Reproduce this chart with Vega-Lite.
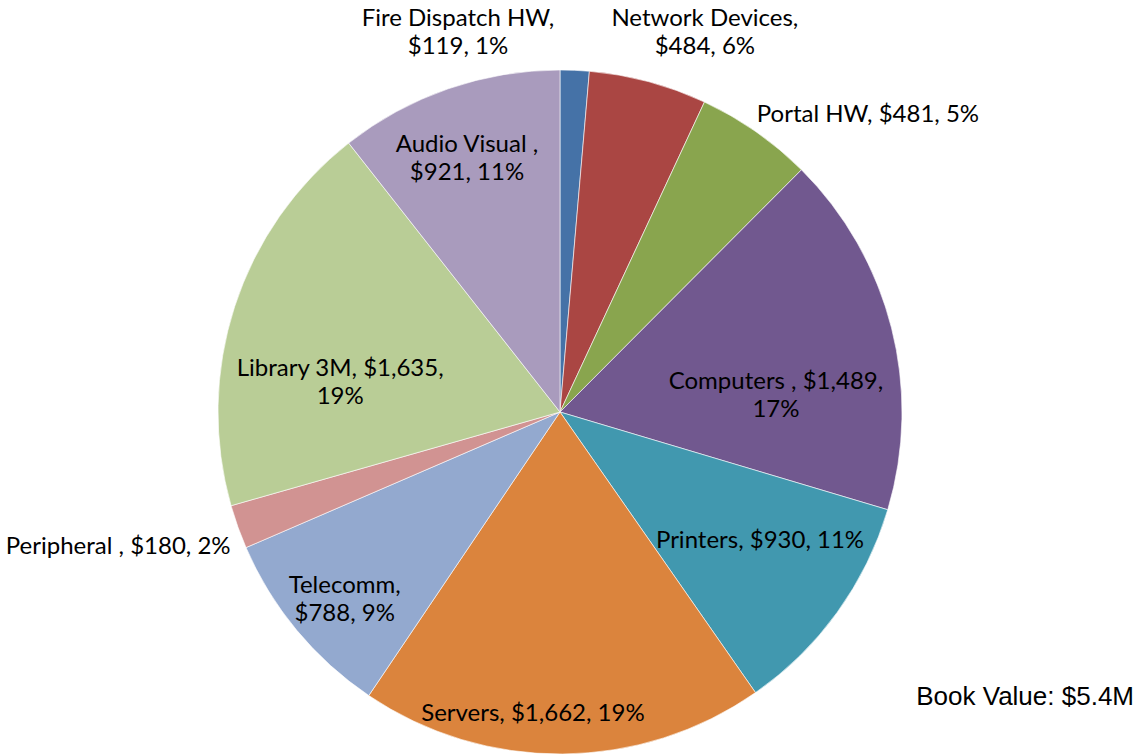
{
  "$schema": "https://vega.github.io/schema/vega-lite/v6.json",
  "width": 1120,
  "height": 686,
  "autosize": {"type": "none"},
  "padding": {"left": 0, "top": 69, "right": 17, "bottom": 0},
  "background": "white",
  "config": {"view": {"stroke": null}},
  "title": {"text": "Book Value: $5.4M", "orient": "bottom", "anchor": "end", "frame": "group", "offset": -50, "dx": 14, "baseline": "alphabetic", "font": "Liberation Sans", "fontSize": 26, "fontWeight": "normal", "color": "#000000"},
  "data": {"values": [
    {"idx": 1, "category": "Fire Dispatch HW", "value": 119, "label": "Fire Dispatch HW,\n$119, 1%"},
    {"idx": 2, "category": "Network Devices", "value": 484, "label": "Network Devices,\n$484, 6%"},
    {"idx": 3, "category": "Portal HW", "value": 481, "label": "Portal HW, $481, 5%"},
    {"idx": 4, "category": "Computers", "value": 1489, "label": "Computers , $1,489,\n17%"},
    {"idx": 5, "category": "Printers", "value": 930, "label": "Printers, $930, 11%"},
    {"idx": 6, "category": "Servers", "value": 1662, "label": "Servers, $1,662, 19%"},
    {"idx": 7, "category": "Telecomm", "value": 788, "label": "Telecomm,\n$788, 9%"},
    {"idx": 8, "category": "Peripheral", "value": 180, "label": "Peripheral , $180, 2%"},
    {"idx": 9, "category": "Library 3M", "value": 1635, "label": "Library 3M, $1,635,\n19%"},
    {"idx": 10, "category": "Audio Visual", "value": 921, "label": "Audio Visual ,\n$921, 11%"}
  ]},
  "transform": [
    {"stack": "value", "groupby": [], "sort": [{"field": "idx", "order": "ascending"}], "as": ["v0", "v1"]}
  ],
  "layer": [
    {
      "mark": {"type": "arc", "outerRadius": 342, "stroke": "#ffffff", "strokeWidth": 0.6},
      "encoding": {
        "theta": {"field": "v0", "type": "quantitative", "stack": null, "scale": {"domain": [0, 8689]}},
        "theta2": {"field": "v1"},
        "color": {"field": "category", "type": "nominal", "legend": null,
          "scale": {"domain": ["Fire Dispatch HW", "Network Devices", "Portal HW", "Computers", "Printers", "Servers", "Telecomm", "Peripheral", "Library 3M", "Audio Visual"],
                    "range": ["#4572A7", "#AA4643", "#89A54E", "#71588F", "#4198AF", "#DB843D", "#93A9CF", "#D19392", "#B9CD96", "#A99BBD"]}}
      }
    },
    {"transform": [{"filter": "datum.category === 'Fire Dispatch HW'"}],
     "mark": {"type": "text", "radius": 406, "thetaOffset": -0.254, "font": "Lato", "fontSize": 24, "lineBreak": "\n", "lineHeight": 28, "align": "center", "baseline": "middle", "color": "#000000"},
     "encoding": {"theta": {"field": "v0", "type": "quantitative", "stack": null}, "text": {"field": "label"}}},
    {"transform": [{"filter": "datum.category === 'Network Devices'"}],
     "mark": {"type": "text", "radius": 419, "thetaOffset": 0.267, "font": "Lato", "fontSize": 24, "lineBreak": "\n", "lineHeight": 28, "align": "center", "baseline": "middle", "color": "#000000"},
     "encoding": {"theta": {"field": "v0", "type": "quantitative", "stack": null}, "text": {"field": "label"}}},
    {"transform": [{"filter": "datum.category === 'Portal HW'"}],
     "mark": {"type": "text", "radius": 428, "thetaOffset": 0.367, "font": "Lato", "fontSize": 24, "lineBreak": "\n", "lineHeight": 28, "align": "center", "baseline": "middle", "color": "#000000"},
     "encoding": {"theta": {"field": "v0", "type": "quantitative", "stack": null}, "text": {"field": "label"}}},
    {"transform": [{"filter": "datum.category === 'Computers'"}],
     "mark": {"type": "text", "radius": 218, "thetaOffset": 0.649, "font": "Lato", "fontSize": 24, "lineBreak": "\n", "lineHeight": 28, "align": "center", "baseline": "middle", "color": "#000000"},
     "encoding": {"theta": {"field": "v0", "type": "quantitative", "stack": null}, "text": {"field": "label"}}},
    {"transform": [{"filter": "datum.category === 'Printers'"}],
     "mark": {"type": "text", "radius": 238, "thetaOffset": 0.283, "font": "Lato", "fontSize": 24, "lineBreak": "\n", "lineHeight": 28, "align": "center", "baseline": "middle", "color": "#000000"},
     "encoding": {"theta": {"field": "v0", "type": "quantitative", "stack": null}, "text": {"field": "label"}}},
    {"transform": [{"filter": "datum.category === 'Servers'"}],
     "mark": {"type": "text", "radius": 303, "thetaOffset": 0.698, "font": "Lato", "fontSize": 24, "lineBreak": "\n", "lineHeight": 28, "align": "center", "baseline": "middle", "color": "#000000"},
     "encoding": {"theta": {"field": "v0", "type": "quantitative", "stack": null}, "text": {"field": "label"}}},
    {"transform": [{"filter": "datum.category === 'Telecomm'"}],
     "mark": {"type": "text", "radius": 277, "thetaOffset": 0.297, "font": "Lato", "fontSize": 24, "lineBreak": "\n", "lineHeight": 28, "align": "center", "baseline": "middle", "color": "#000000"},
     "encoding": {"theta": {"field": "v0", "type": "quantitative", "stack": null}, "text": {"field": "label"}}},
    {"transform": [{"filter": "datum.category === 'Peripheral'"}],
     "mark": {"type": "text", "radius": 462, "thetaOffset": 0.111, "font": "Lato", "fontSize": 24, "lineBreak": "\n", "lineHeight": 28, "align": "center", "baseline": "middle", "color": "#000000"},
     "encoding": {"theta": {"field": "v0", "type": "quantitative", "stack": null}, "text": {"field": "label"}}},
    {"transform": [{"filter": "datum.category === 'Library 3M'"}],
     "mark": {"type": "text", "radius": 224, "thetaOffset": 0.471, "font": "Lato", "fontSize": 24, "lineBreak": "\n", "lineHeight": 28, "align": "center", "baseline": "middle", "color": "#000000"},
     "encoding": {"theta": {"field": "v0", "type": "quantitative", "stack": null}, "text": {"field": "label"}}},
    {"transform": [{"filter": "datum.category === 'Audio Visual'"}],
     "mark": {"type": "text", "radius": 283, "thetaOffset": 0.331, "font": "Lato", "fontSize": 24, "lineBreak": "\n", "lineHeight": 28, "align": "center", "baseline": "middle", "color": "#000000"},
     "encoding": {"theta": {"field": "v0", "type": "quantitative", "stack": null}, "text": {"field": "label"}}}
  ]
}
